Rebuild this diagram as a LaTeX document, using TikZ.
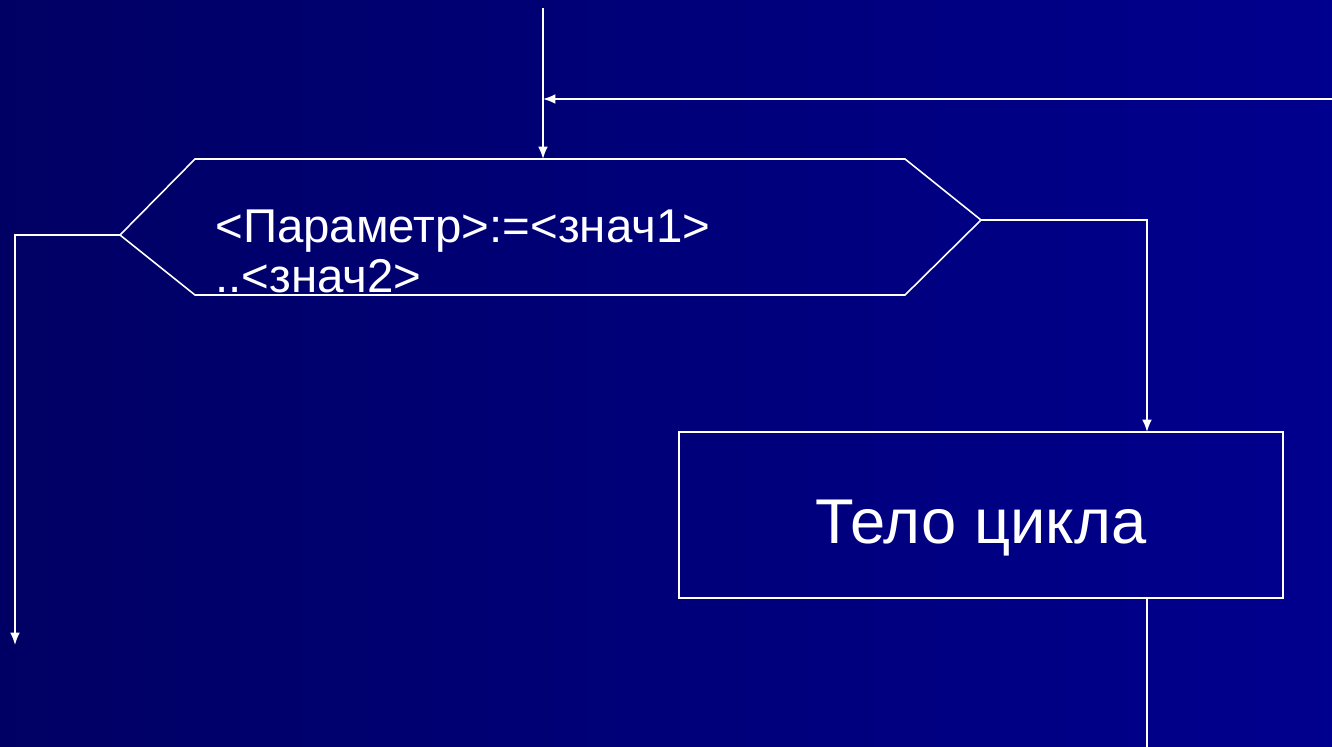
\documentclass[tikz,border=0pt]{standalone}
\usepackage{fontspec}
\setmainfont{Liberation Sans}
\usetikzlibrary{positioning,arrows.meta}

\begin{document}
\begin{tikzpicture}[>={Latex[length=7pt,width=5.5pt]},x=0.02cm,y=-0.02cm,
  line/.style={draw=white,line width=0.9pt},
  labeltext/.style={text=white,font=\fontsize{27}{28.4}\selectfont},
  bodybox/.style={line,text=white,minimum width=12.08cm,minimum height=3.32cm,
    inner sep=0pt,text height=1.12cm,text depth=0pt,font=\fontsize{36}{40}\selectfont}]

% Background with the slide gradient
\useasboundingbox (0,0) rectangle (1332,747);
\shade [left color={rgb,255:red,0;green,0;blue,100},
        right color={rgb,255:red,0;green,0;blue,142}] (0,0) rectangle (1332,747);

% Corners of the loop header
\coordinate (hl)  at (120,235);
\coordinate (htl) at (195,159);
\coordinate (htr) at (905,159);
\coordinate (hr)  at (981,220);
\coordinate (hbr) at (905,295);
\coordinate (hbl) at (195,295);
\coordinate (htop) at (543,159);

\draw [line] (htl) -- (htr) -- (hr) -- (hbr) -- (hbl) -- (hl) -- cycle;
\node [labeltext,anchor=base west,align=left,inner sep=0pt] (param) at (215,292)
  {<Параметр>:=<знач1>\\..<знач2>};

% Loop body
\node [bodybox] (body) at (981,515) {Тело цикла};

% Free ends of the connectors
\coordinate (entry)  at (543,8);
\coordinate (back)   at (1332,99);
\coordinate (join)   at (543,99);
\coordinate (exit)   at (15,645);
\coordinate (bodyin) at (1147,432);
\coordinate (bodyout) at (1147,598);
\coordinate (down)   at (1147,747);

\draw [line,->] (entry) -- (htop);
\draw [line,->] (back) -- (join);
\draw [line,->] (hl) -| (exit);
\draw [line,->] (hr) -| (bodyin);
\draw [line] (bodyout) -- (down);

\end{tikzpicture}
\end{document}
